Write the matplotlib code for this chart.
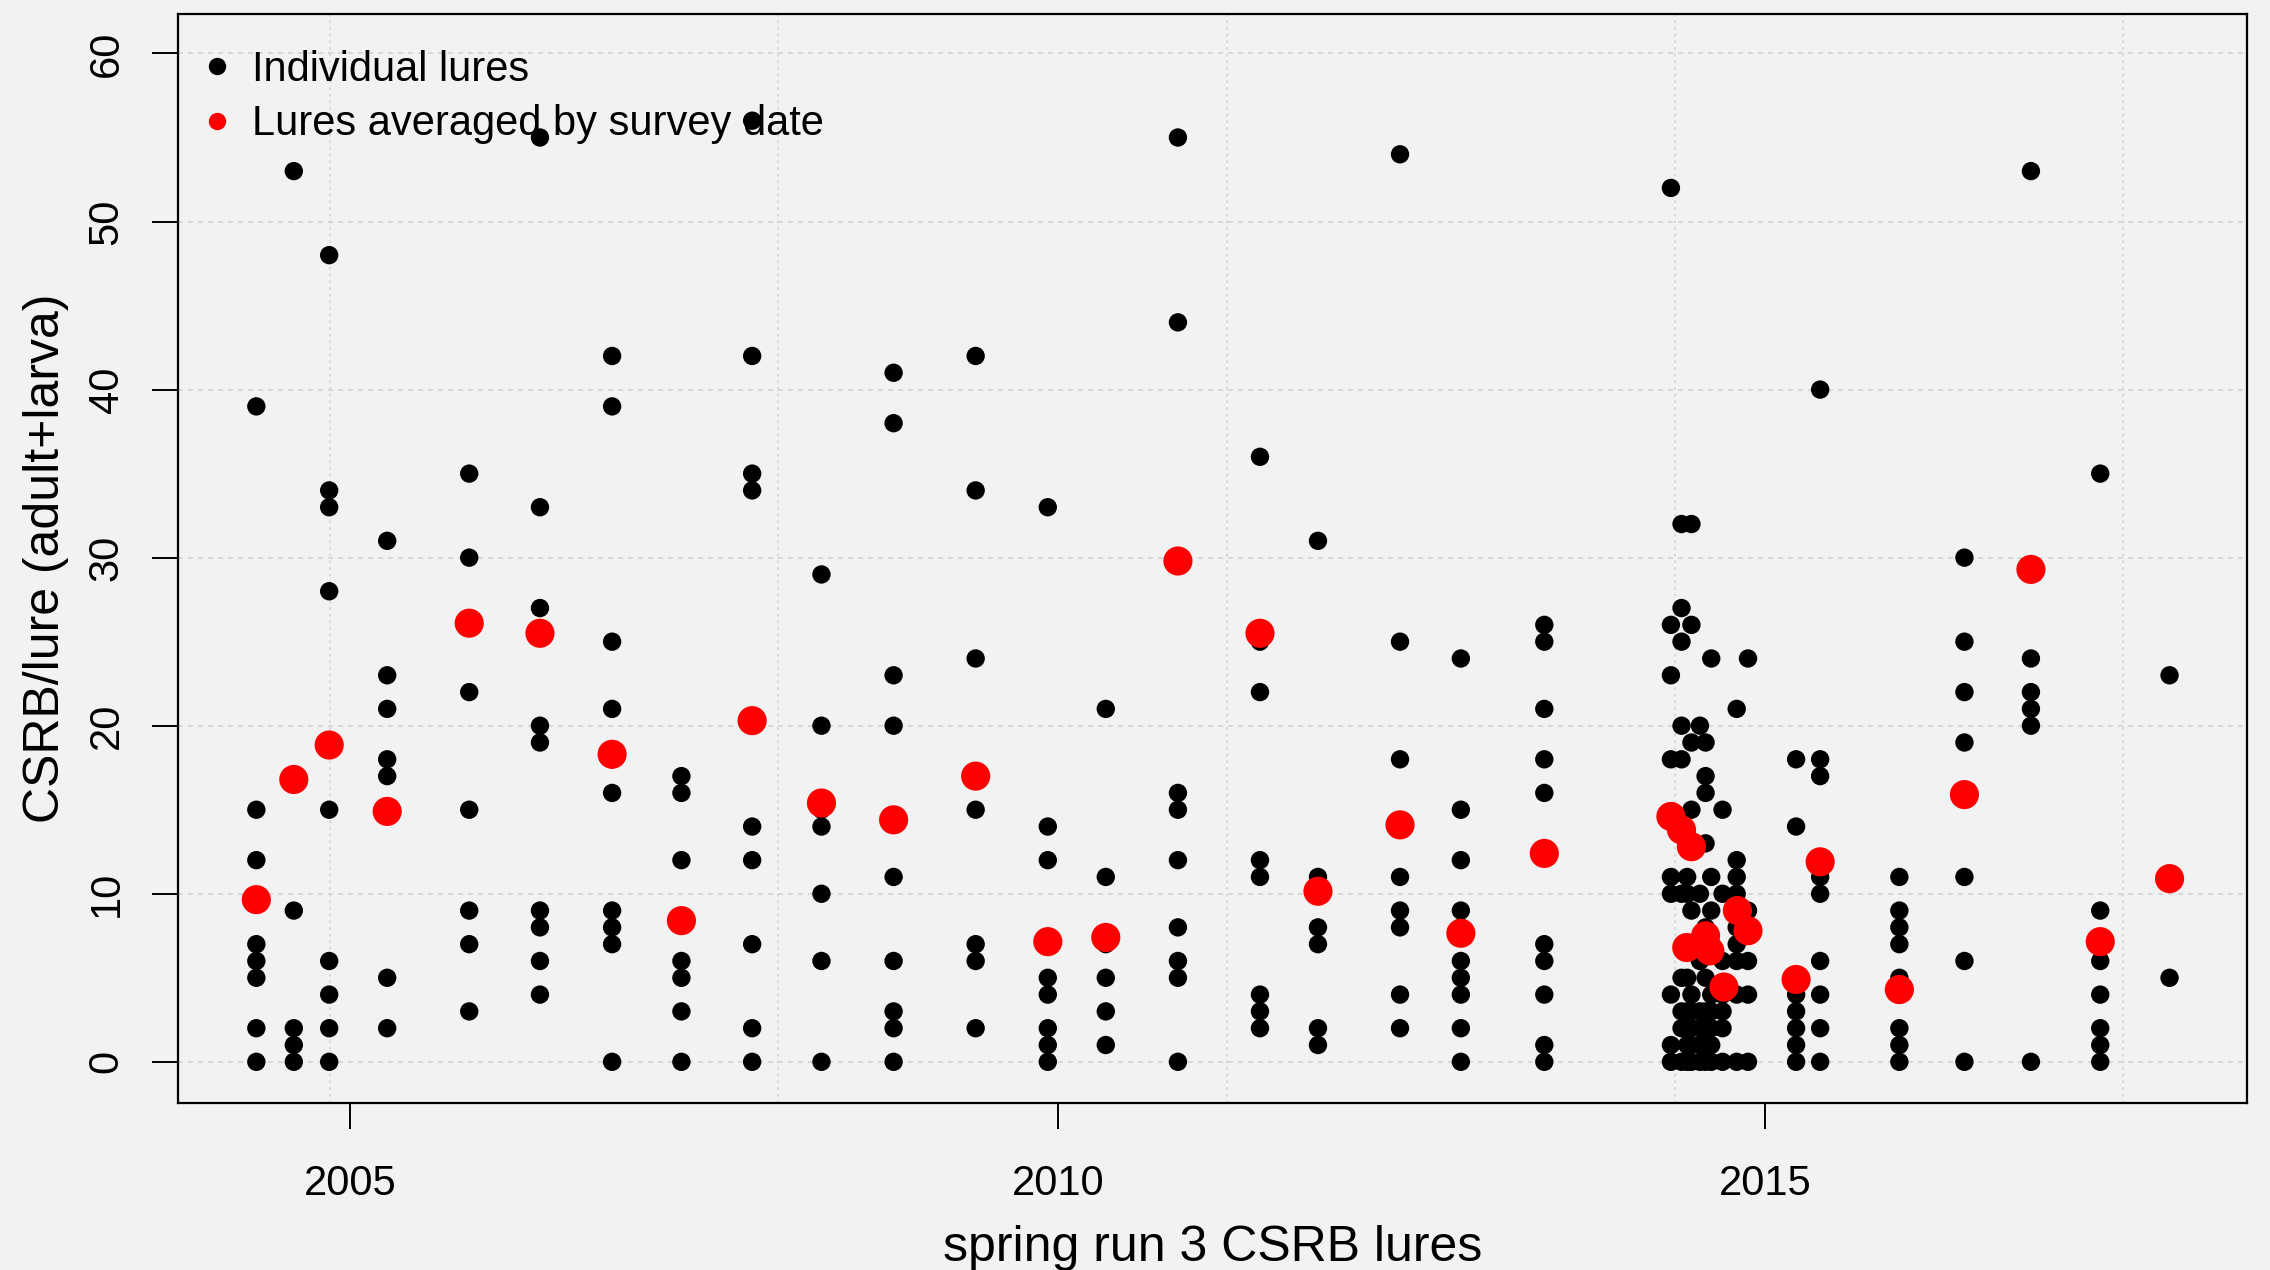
import numpy as np
import matplotlib
matplotlib.use("Agg")
import matplotlib.pyplot as plt
from matplotlib.lines import Line2D

plt.rcParams['font.family'] = ['Liberation Sans', 'DejaVu Sans']

# survey dates (decimal years) and counts of CSRB per lure on that date
survey_dates = [2004.335, 2004.60, 2004.85, 2005.26, 2005.84, 2006.34, 2006.85,
                2007.34, 2007.84, 2008.33, 2008.84, 2009.42, 2009.93, 2010.34,
                2010.85, 2011.43, 2011.84, 2012.42, 2012.85, 2013.44,
                2014.335, 2014.41, 2014.45, 2014.48, 2014.54, 2014.58, 2014.62,
                2014.70, 2014.80, 2014.88,
                2015.22, 2015.39, 2015.95, 2016.41, 2016.88, 2017.37, 2017.86]

lure_counts = [
    [39, 15, 12, 7, 6, 5, 2, 0],
    [53, 9, 2, 1, 0],
    [48, 34, 33, 28, 15, 6, 4, 2, 0],
    [31, 23, 21, 18, 17, 5, 2],
    [35, 30, 22, 15, 9, 7, 3],
    [55, 33, 27, 20, 19, 9, 8, 6, 4],
    [42, 39, 25, 21, 18, 16, 9, 8, 7, 0],
    [17, 16, 12, 6, 5, 3, 0],
    [56, 42, 35, 34, 14, 12, 7, 2, 0],
    [29, 20, 15, 14, 10, 6, 0],
    [41, 38, 23, 20, 11, 6, 3, 2, 0],
    [42, 34, 24, 15, 7, 6, 2],
    [33, 14, 12, 5, 4, 2, 1, 0],
    [21, 11, 7, 5, 3, 1],
    [55, 44, 16, 15, 12, 8, 6, 5, 0],
    [36, 25, 22, 12, 11, 4, 3, 2],
    [31, 11, 10, 8, 7, 2, 1],
    [54, 25, 18, 11, 9, 8, 4, 2],
    [24, 15, 12, 9, 8, 6, 5, 4, 2, 0],
    [26, 25, 21, 18, 16, 7, 6, 4, 1, 0],
    [52, 26, 23, 18, 11, 10, 4, 1, 0],
    [32, 27, 25, 20, 18, 10, 5, 3, 2, 0],
    [11, 10, 7, 5, 3, 2, 1, 0],
    [32, 26, 19, 15, 9, 4, 3, 2, 1, 0],
    [20, 10, 7, 6, 3, 2, 1, 0],
    [19, 17, 16, 13, 8, 5, 3, 2, 1, 0],
    [24, 11, 9, 7, 4, 3, 2, 1, 0],
    [15, 10, 6, 4, 3, 2, 0],
    [21, 12, 11, 10, 8, 7, 6, 4, 0],
    [24, 9, 8, 6, 4, 0],
    [18, 14, 5, 4, 3, 2, 1, 0],
    [40, 18, 17, 12, 11, 10, 6, 4, 2, 0],
    [11, 9, 8, 7, 5, 2, 1, 0],
    [30, 25, 22, 19, 11, 6, 0],
    [53, 24, 22, 21, 20, 0],
    [35, 9, 7, 6, 4, 2, 1, 0],
    [23, 11, 5],
]

# lures averaged by survey date
avg_dates = [2004.335, 2004.60, 2004.85, 2005.26, 2005.84, 2006.34, 2006.85,
             2007.34, 2007.84, 2008.33, 2008.84, 2009.42, 2009.93, 2010.34,
             2010.85, 2011.43, 2011.84, 2012.42, 2012.85, 2013.44,
             2014.335, 2014.41, 2014.48, 2014.447, 2014.58, 2014.61, 2014.71,
             2014.805, 2014.88,
             2015.22, 2015.39, 2015.95, 2016.41, 2016.88, 2017.37, 2017.86]
avg_values = [9.65, 16.8, 18.85, 14.9, 26.1, 25.5, 18.3,
              8.4, 20.3, 15.4, 14.4, 17.0, 7.15, 7.4,
              29.8, 25.5, 10.15, 14.1, 7.65, 12.4,
              14.6, 13.8, 12.8, 6.8, 7.5, 6.6, 4.45,
              9.0, 7.8,
              4.9, 11.9, 4.3, 15.9, 29.3, 7.15, 10.9]

x_ticks = [2005, 2010, 2015]
y_ticks = [0, 10, 20, 30, 40, 50, 60]

xs = np.repeat(survey_dates, [len(c) for c in lure_counts])
ys = np.concatenate([np.array(c, dtype=float) for c in lure_counts])

bg = '#f2f2f2'
fig = plt.figure(figsize=(22.7, 12.7), dpi=100, facecolor=bg)
ax = fig.add_axes([0.0784, 0.1315, 0.9115, 0.8575], facecolor=bg)

# grid lines (vertical ones sit on round POSIX-second values, like R's grid())
for y in y_ticks:
    ax.axhline(y, color='#d3d3d3', lw=1.2, ls=(0, (3, 3)), zorder=0)
for k in range(11, 16):
    ax.axvline(1970 + k * 1e8 / 31557600.0, color='#d3d3d3', lw=1.2,
               ls=(0, (1.5, 2.5)), zorder=0)

ax.scatter(xs, ys, s=175, c='black', edgecolors='none', zorder=2)
ax.scatter(avg_dates, avg_values, s=440, c='red', edgecolors='none', zorder=3)

ax.set_xlim(2003.781, 2018.408)
ax.set_ylim(-2.45, 62.35)
ax.set_xticks(x_ticks)
ax.set_xticklabels([str(t) for t in x_ticks])
ax.set_yticks(y_ticks)
ax.tick_params(axis='both', labelsize=30, length=19, width=1.4,
               color='black', labelcolor='black')
ax.tick_params(axis='x', pad=25)
ax.tick_params(axis='y', labelrotation=90, pad=18)
for lab in ax.get_yticklabels():
    lab.set_verticalalignment('center')

for sp in ax.spines.values():
    sp.set_linewidth(1.6)
    sp.set_color('black')

ax.set_xlabel('spring run 3 CSRB lures', fontsize=36, labelpad=15)
ax.set_ylabel('CSRB/lure (adult+larva)', fontsize=36, labelpad=13)

handles = [Line2D([], [], ls='none', marker='o', ms=12.5, color='black', mec='none'),
           Line2D([], [], ls='none', marker='o', ms=12.5, color='red', mec='none')]
ax.legend(handles, ['Individual lures', 'Lures averaged by survey date'],
          loc='upper left', bbox_to_anchor=(0.0106, 0.967), frameon=False,
          fontsize=30, handlelength=0.8, handletextpad=0.46, borderpad=0,
          borderaxespad=0, labelspacing=0.35)

fig.savefig('out.png', dpi=100, facecolor=bg)
